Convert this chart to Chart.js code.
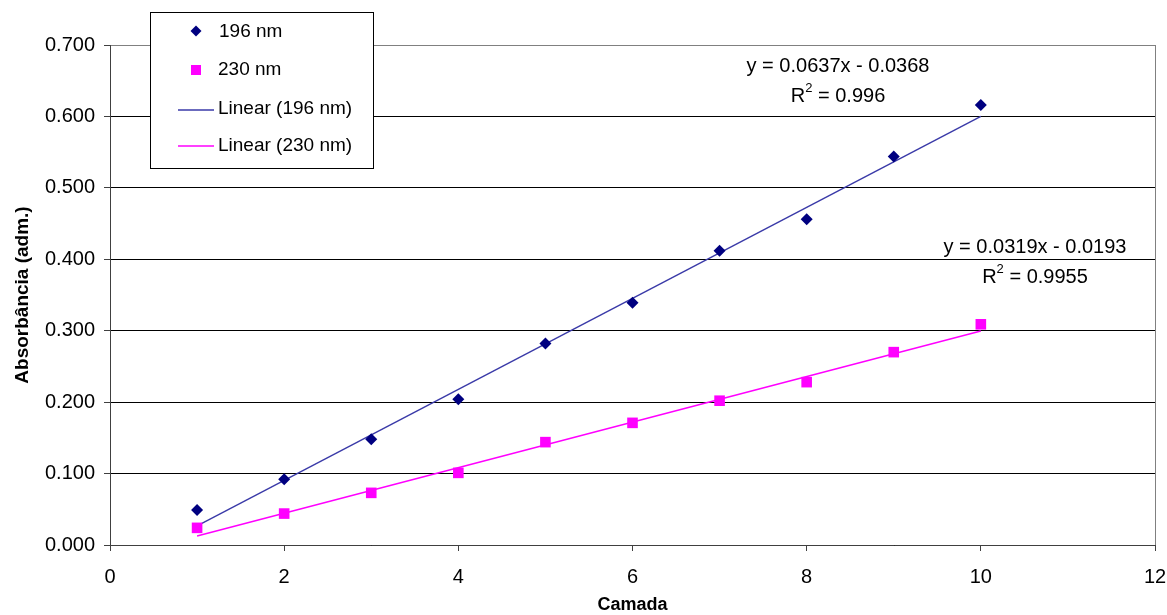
<!DOCTYPE html>
<html>
<head>
<meta charset="utf-8">
<script src="https://cdn.jsdelivr.net/npm/chart.js@4.4.1/dist/chart.umd.min.js"></script>
<style>
    body { margin: 0; background: #fff; }
    #wrap { width: 1167px; height: 615px; position: relative; }
</style>
</head>
<body>
<div id="wrap"><canvas id="myChart"></canvas></div>
<script>
// data
let camada = [1, 2, 3, 4, 5, 6, 7, 8, 9, 10];
let abs196 = [0.049, 0.092, 0.148, 0.204, 0.282, 0.339, 0.412, 0.456, 0.544, 0.616];
let abs230 = [0.024, 0.044, 0.073, 0.101, 0.144, 0.171, 0.202, 0.228, 0.270, 0.309];
// trendline end points (x = 1 and x = 10), taken from the equations shown
let trendX = [1, 10];
let trend196 = [0.0269, 0.6002];
let trend230 = [0.0126, 0.2997];
let yTicks = [0, 0.1, 0.2, 0.3, 0.4, 0.5, 0.6, 0.7];
let xTicks = [0, 2, 4, 6, 8, 10, 12];
let eq196 = ['y = 0.0637x - 0.0368', '0.996'];
let eq230 = ['y = 0.0319x - 0.0193', '0.9955'];

const fontFamily = "'Liberation Sans', Arial, sans-serif";

function toPoints(xs, ys) {
    return xs.map((x, k) => ({ x: x, y: ys[k] }));
}

const extrasPlugin = {
    id: 'extras',
    afterDraw(chart) {
        const ctx = chart.ctx;
        const area = chart.chartArea;
        ctx.save();
        // right border of plot area
        ctx.strokeStyle = '#808080';
        ctx.lineWidth = 1;
        ctx.beginPath();
        ctx.moveTo(Math.round(area.right) + 0.5, area.top);
        ctx.lineTo(Math.round(area.right) + 0.5, area.bottom);
        ctx.stroke();

        // equations
        ctx.fillStyle = '#000';
        ctx.textAlign = 'center';
        ctx.textBaseline = 'middle';
        drawEq(ctx, 838, 66, eq196);
        drawEq(ctx, 1035, 247, eq230);

        // legend box
        ctx.fillStyle = '#fff';
        ctx.fillRect(150, 12, 224, 157);
        ctx.strokeStyle = '#000';
        ctx.strokeRect(150.5, 12.5, 223, 156);
        ctx.font = '19px ' + fontFamily;
        ctx.textAlign = 'left';
        // diamond
        ctx.fillStyle = '#000080';
        ctx.beginPath();
        ctx.moveTo(196, 25.5); ctx.lineTo(201.5, 31); ctx.lineTo(196, 36.5); ctx.lineTo(190.5, 31);
        ctx.closePath();
        ctx.fill();
        ctx.fillStyle = '#ff00ff';
        ctx.fillRect(191, 65, 10, 10);
        ctx.lineWidth = 1.3;
        ctx.strokeStyle = '#3a3aa8';
        ctx.beginPath(); ctx.moveTo(178, 110); ctx.lineTo(214, 110); ctx.stroke();
        ctx.strokeStyle = '#ff00ff';
        ctx.beginPath(); ctx.moveTo(178, 146); ctx.lineTo(214, 146); ctx.stroke();
        ctx.fillStyle = '#000';
        ctx.fillText('196 nm', 219, 32);
        ctx.fillText('230 nm', 218, 70);
        ctx.fillText('Linear (196 nm)', 218, 109);
        ctx.fillText('Linear (230 nm)', 218, 146);
        ctx.restore();
    }
};

function drawEq(ctx, cx, cy, eq) {
    ctx.font = '20px ' + fontFamily;
    ctx.fillText(eq[0], cx, cy);
    let rest = ' = ' + eq[1];
    let wR = ctx.measureText('R').width;
    let wRest = ctx.measureText(rest).width;
    ctx.font = '13px ' + fontFamily;
    let w2 = ctx.measureText('2').width;
    let total = wR + w2 + wRest;
    let left = cx - total / 2;
    ctx.textAlign = 'left';
    ctx.font = '20px ' + fontFamily;
    ctx.fillText('R', left, cy + 30);
    ctx.font = '13px ' + fontFamily;
    ctx.fillText('2', left + wR, cy + 22);
    ctx.font = '20px ' + fontFamily;
    ctx.fillText(rest, left + wR + w2, cy + 30);
    ctx.textAlign = 'center';
}

const ctx = document.getElementById('myChart');
new Chart(ctx, {
    type: 'scatter',
    data: {
        datasets: [{
            label: '196 nm',
            data: toPoints(camada, abs196),
            pointStyle: 'rectRot',
            pointRadius: 6,
            backgroundColor: '#000080',
            borderColor: '#000080',
            borderWidth: 0,
            order: 0
        }, {
            label: '230 nm',
            data: toPoints(camada, abs230),
            pointStyle: 'rect',
            pointRadius: 7.5,
            backgroundColor: '#ff00ff',
            borderColor: '#ff00ff',
            borderWidth: 0,
            order: 1
        }, {
            label: 'Linear (196 nm)',
            data: toPoints(trendX, trend196),
            showLine: true,
            pointRadius: 0,
            borderColor: '#3a3aa8',
            borderWidth: 1.4,
            order: 2
        }, {
            label: 'Linear (230 nm)',
            data: toPoints(trendX, trend230),
            showLine: true,
            pointRadius: 0,
            borderColor: '#ff00ff',
            borderWidth: 1.5,
            order: 3
        }]
    },
    options: {
        responsive: true,
        maintainAspectRatio: false,
        animation: false,
        layout: {
            padding: { left: 0, top: 45, right: 12, bottom: 0 }
        },
        plugins: {
            legend: { display: false },
            tooltip: { enabled: false }
        },
        scales: {
            x: {
                type: 'linear',
                min: 0,
                max: 12,
                afterBuildTicks: (scale) => { scale.ticks = xTicks.map(v => ({ value: v })); },
                afterFit: (scale) => {
                    scale.height = 70;
                    scale.paddingLeft = 0;
                    scale.paddingRight = 0;
                },
                ticks: {
                    color: '#000',
                    font: { family: fontFamily, size: 20 },
                    padding: 14,
                    maxRotation: 0
                },
                grid: {
                    drawOnChartArea: false,
                    drawTicks: true,
                    tickLength: 6,
                    tickColor: '#404040'
                },
                border: { color: '#404040', width: 1 },
                title: {
                    display: true,
                    text: 'Camada',
                    color: '#000',
                    font: { family: fontFamily, size: 18, weight: 'bold' },
                    padding: { top: 0, bottom: -1 }
                }
            },
            y: {
                type: 'linear',
                min: 0,
                max: 0.7,
                afterBuildTicks: (scale) => { scale.ticks = yTicks.map(v => ({ value: v })); },
                afterFit: (scale) => { scale.width = 110; },
                ticks: {
                    color: '#000',
                    font: { family: fontFamily, size: 20 },
                    padding: 9,
                    callback: (v) => Number(v).toFixed(3)
                },
                grid: {
                    color: (c) => (c.tick && c.tick.value >= 0.7 ? '#808080' : '#000'),
                    lineWidth: 1,
                    drawTicks: true,
                    tickLength: 6,
                    tickColor: '#404040'
                },
                border: { color: '#404040', width: 1 },
                title: {
                    display: true,
                    text: 'Absorbância (adm.)',
                    color: '#000',
                    font: { family: fontFamily, size: 19, weight: 'bold' },
                    padding: { top: 11, bottom: 0 }
                }
            }
        }
    },
    plugins: [extrasPlugin]
});
</script>
</body>
</html>
